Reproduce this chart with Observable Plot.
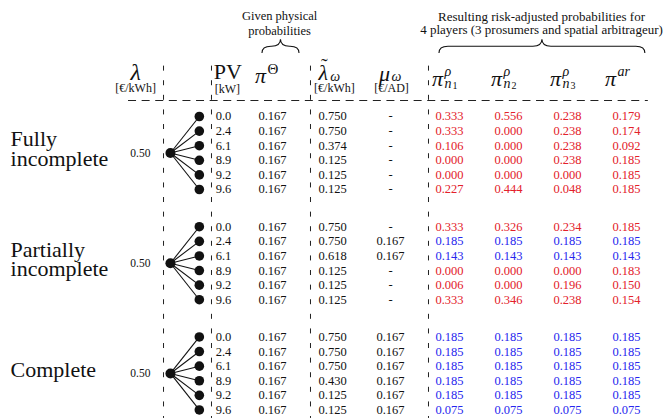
<!DOCTYPE html>
<html><head><meta charset="utf-8">
<script src="https://cdn.jsdelivr.net/npm/d3@7"></script>
<script src="https://cdn.jsdelivr.net/npm/@observablehq/plot@0.6"></script>
<style>html,body{margin:0;padding:0;background:#fff} svg{display:block} svg text{font-family:"Liberation Serif","Times New Roman",serif}</style>
</head><body><div id="chart"></div>
<script>
// ---------- data ----------
const blocks = ["Fully\nincomplete", "Partially\nincomplete", "Complete"];
const lambdaPrice = [0.50, 0.50, 0.50];
const pv = [0.0, 2.4, 6.1, 8.9, 9.2, 9.6];
const piTheta = [0.167, 0.167, 0.167, 0.167, 0.167, 0.167];
const lambdaTilde = [
  [0.750, 0.750, 0.374, 0.125, 0.125, 0.125],
  [0.750, 0.750, 0.618, 0.125, 0.125, 0.125],
  [0.750, 0.750, 0.750, 0.430, 0.125, 0.125]
];
const muOmega = [
  [null, null, null, null, null, null],
  [null, 0.167, 0.167, null, null, null],
  [0.167, 0.167, 0.167, 0.167, 0.167, 0.167]
];
const piN1 = [
  [0.333, 0.333, 0.106, 0.000, 0.000, 0.227],
  [0.333, 0.185, 0.143, 0.000, 0.006, 0.333],
  [0.185, 0.185, 0.185, 0.185, 0.185, 0.075]
];
const piN2 = [
  [0.556, 0.000, 0.000, 0.000, 0.000, 0.444],
  [0.326, 0.185, 0.143, 0.000, 0.000, 0.346],
  [0.185, 0.185, 0.185, 0.185, 0.185, 0.075]
];
const piN3 = [
  [0.238, 0.238, 0.238, 0.238, 0.000, 0.048],
  [0.234, 0.185, 0.143, 0.000, 0.196, 0.238],
  [0.185, 0.185, 0.185, 0.185, 0.185, 0.075]
];
const piAr = [
  [0.179, 0.174, 0.092, 0.185, 0.185, 0.185],
  [0.185, 0.185, 0.143, 0.183, 0.150, 0.154],
  [0.185, 0.185, 0.185, 0.185, 0.185, 0.075]
];
const players = [
  {key: "n1", sup: "ρ", sub: "n", num: "1"},
  {key: "n2", sup: "ρ", sub: "n", num: "2"},
  {key: "n3", sup: "ρ", sub: "n", num: "3"},
  {key: "ar", sup: "ar", sub: "", num: ""}
];
const titleGiven = "Given physical\nprobabilities";
const titleResult = "Resulting risk-adjusted probabilities for\n4 players (3 prosumers and spatial arbitrageur)";

// ---------- layout (grid units) ----------
const BLOCK = 7.55;               // rows between block starts
const col = {label: -1.44, lambdaHead: 0.68, lambda: 0.76, root: 1.27, leaf: 1.76, pv: 2.02,
  theta: 3, lt: 3.78, ltHead: 3.93, ltUnit: 4.05, mu: 5, n1: 6, n2: 7, n3: 8, ar: 9};
const dividers = [1.153, 1.966, 3.644, 5.644];
const rowHead = -3.0, rowUnit = -1.95, rowRule = -1.10, rowTitle = -6.4;

const FONT = "Liberation Serif";
const RED = "#e3202a", BLUE = "#2626ee", INK = "#111";
const f3 = d3.format(".3f"), f1 = d3.format(".1f");

const rows = [];
blocks.forEach((name, b) => pv.forEach((p, r) => rows.push({
  b, r, y: b * BLOCK + r, pv: p, theta: piTheta[r], lt: lambdaTilde[b][r], mu: muOmega[b][r],
  n1: piN1[b][r], n2: piN2[b][r], n3: piN3[b][r], ar: piAr[b][r]
})));
const mid = (d, i) => i * BLOCK + 2.5;

function brace(x1, x2, yEnd, yMid, yTip) {
  return (index, scales) => {
    const X1 = scales.x(x1), X2 = scales.x(x2), XM = (X1 + X2) / 2;
    const YE = scales.y(yEnd), YM = scales.y(yMid), YT = scales.y(yTip);
    const r = Math.min(9, (XM - X1) / 2);
    const p = document.createElementNS("http://www.w3.org/2000/svg", "path");
    p.setAttribute("d", `M${X1},${YE} Q${X1},${YM} ${X1 + r},${YM} L${XM - r},${YM} Q${XM},${YM} ${XM},${YT} Q${XM},${YM} ${XM + r},${YM} L${X2 - r},${YM} Q${X2},${YM} ${X2},${YE}`);
    p.setAttribute("fill", "none");
    p.setAttribute("stroke", INK);
    p.setAttribute("stroke-width", "1.1");
    return p;
  };
}

const T = (data, opts) => Plot.text(data, {fontFamily: FONT, ...opts});

const valueMarks = ["n1", "n2", "n3", "ar"].map(k => T(rows, {
  x: col[k], y: "y", text: d => f3(d[k]), fill: d => d.mu == null ? RED : BLUE, fontSize: 12.5
}));

const headerMarks = [];
players.forEach(p => {
  const dxPi = p.key === "ar" ? -16 : -12;
  headerMarks.push(T([p], {x: col[p.key], y: rowHead, text: () => "π", fontSize: 22, fontStyle: "italic", dx: dxPi, dy: 6}));
  headerMarks.push(T([p], {x: col[p.key], y: rowHead, text: d => d.sup, fontSize: 14, fontStyle: "italic", textAnchor: "start", dx: dxPi + 7, dy: -1}));
  if (p.sub) {
    headerMarks.push(T([p], {x: col[p.key], y: rowHead, text: d => d.sub, fontSize: 14, fontStyle: "italic", textAnchor: "start", dx: dxPi + 7, dy: 11}));
    headerMarks.push(T([p], {x: col[p.key], y: rowHead, text: d => d.num, fontSize: 10, textAnchor: "start", dx: dxPi + 15, dy: 13}));
  }
});

const chart = Plot.plot({
  width: 666, height: 418, margin: 0,
  style: {fontFamily: FONT, background: "#fff", color: INK},
  x: {domain: [-1.61, 9.678], range: [0, 666], axis: null},
  y: {domain: [-7.945, 20.685], range: [0, 418], axis: null},
  marks: [
    // dashed grid
    Plot.ruleX(dividers, {x: d => d, y1: -3.45, y2: 20.68, stroke: "#222", strokeWidth: 1, strokeDasharray: "5,9.6"}),
    Plot.ruleY([rowRule], {y: d => d, x1: 0.56, x2: 9.37, stroke: "#222", strokeWidth: 1.1, strokeDasharray: "8,5.6"}),
    // titles and braces
    T([titleGiven], {x: 3.12, y: rowTitle, text: d => d, fontSize: 12.5, lineHeight: 1.15}),
    T([titleResult], {x: 7.56, y: rowTitle, text: d => d, fontSize: 13, lineHeight: 1.0}),
    brace(2.83, 3.458, -4.32, -4.78, -5.25),
    brace(5.83, 9.32, -4.32, -4.78, -5.25),
    // header symbols
    T(["λ"], {x: col.lambdaHead, y: rowHead, text: d => d, fontSize: 24, fontStyle: "italic"}),
    T(["[€/kWh]"], {x: col.lambdaHead, y: rowUnit, text: d => d, fontSize: 12}),
    T(["PV"], {x: col.pv, y: rowHead, text: d => d, fontSize: 22, textAnchor: "start", dx: -1, dy: -1}),
    T(["[kW]"], {x: col.pv, y: rowUnit, text: d => d, fontSize: 12, textAnchor: "start", dy: 1}),
    T(["π"], {x: col.theta, y: rowHead, text: d => d, fontSize: 22, fontStyle: "italic", dx: -12, dy: 3}),
    T(["Θ"], {x: col.theta, y: rowHead, text: d => d, fontSize: 15, textAnchor: "start", dx: -5, dy: -4}),
    T(["λ"], {x: col.ltHead, y: rowHead, text: d => d, fontSize: 22, fontStyle: "italic", dx: -4}),
    T(["˜"], {x: col.ltHead, y: rowHead, text: d => d, fontSize: 20, dx: -3, dy: -6}),
    T(["ω"], {x: col.ltHead, y: rowHead, text: d => d, fontSize: 14, fontStyle: "italic", textAnchor: "start", dx: 3, dy: 4}),
    T(["[€/kWh]"], {x: col.ltUnit, y: rowUnit, text: d => d, fontSize: 12}),
    T(["μ"], {x: col.mu, y: rowHead, text: d => d, fontSize: 22, fontStyle: "italic", dx: -6, dy: 1}),
    T(["ω"], {x: col.mu, y: rowHead, text: d => d, fontSize: 14, fontStyle: "italic", textAnchor: "start", dx: 1, dy: 4}),
    T(["[€/AD]"], {x: col.mu, y: rowUnit, text: d => d, fontSize: 12, dx: 1}),
    ...headerMarks,
    // block labels and lambda values
    T(blocks, {x: col.label, y: mid, text: d => d, textAnchor: "start", fontSize: 22, lineHeight: 0.9, dy: -3}),
    T(lambdaPrice, {x: col.lambda, y: mid, text: d => d.toFixed(2), fontSize: 11.5}),
    // scenario trees
    Plot.link(rows, {x1: col.root, y1: d => d.b * BLOCK + 2.5, x2: col.leaf, y2: "y", stroke: INK, strokeWidth: 1.1}),
    Plot.dot(lambdaPrice, {x: col.root, y: mid, r: 5, fill: INK, stroke: null}),
    Plot.dot(rows, {x: col.leaf, y: "y", r: 4.8, fill: INK, stroke: null}),
    // table values
    T(rows, {x: col.pv, y: "y", text: d => f1(d.pv), textAnchor: "start", fontSize: 12.5, dx: 1}),
    T(rows, {x: col.theta, y: "y", text: d => f3(d.theta), fontSize: 12.5}),
    T(rows, {x: col.lt, y: "y", text: d => f3(d.lt), textAnchor: "start", fontSize: 12.5}),
    T(rows, {x: col.mu, y: "y", text: d => d.mu == null ? "-" : f3(d.mu), fontSize: 12.5}),
    ...valueMarks
  ]
});
document.getElementById("chart").appendChild(chart);
</script>
</body></html>
